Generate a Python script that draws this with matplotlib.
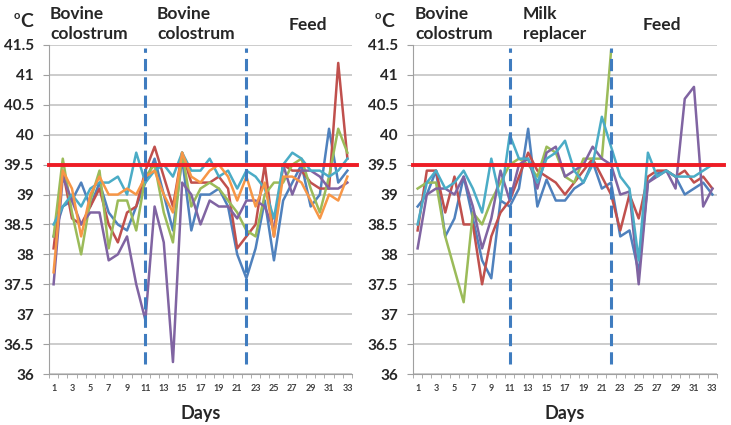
import numpy as np
import matplotlib
matplotlib.use("Agg")
import matplotlib.pyplot as plt

nan = np.nan
days = list(range(1, 34))
tick_days = list(range(1, 34, 2))
yticks = [36, 36.5, 37, 37.5, 38, 38.5, 39, 39.5, 40, 40.5, 41, 41.5]
threshold = 39.5
phase_breaks = [11, 22]

# left panel: bovine colostrum / bovine colostrum / feed
left_blue = [38.3, 38.8, 38.9, 39.2, 38.8, 39.2, 38.7, 38.5, 38.4, 38.8, 39.2, 39.6, 39.0, 38.4, 39.6, 38.4, 39.0,
             39.0, 39.1, 38.8, 38.0, 37.6, 38.1, 38.9, 37.9, 38.9, 39.2, 39.5, 38.8, 39.0, 40.1, 39.2, 39.4]
left_red = [38.1, 39.4, 38.6, 38.5, 38.8, 39.1, 38.5, 38.2, 38.7, 38.8, 39.4, 39.8, 39.3, 38.8, 39.7, 39.2, 39.2,
            39.2, 39.3, 39.1, 38.1, 38.3, 38.5, 39.5, 38.3, 39.5, 39.4, 39.4, 39.2, 39.1, 39.1, 41.2, 39.6]
left_green = [38.3, 39.6, 38.7, 38.0, 38.9, 39.4, 38.1, 38.9, 38.9, 38.4, 39.3, 39.5, 38.7, 38.2, 39.7, 38.8, 39.1,
              39.2, 39.1, 38.9, 38.7, 38.4, 38.3, 39.0, 39.2, 39.2, 39.5, 39.6, 39.1, 38.7, 39.3, 40.1, 39.7]
left_purple = [37.5, 39.3, 38.9, 38.5, 38.7, 38.7, 37.9, 38.0, 38.3, 37.5, 36.9, 38.8, 38.2, 36.2, 39.2, 39.0, 38.5,
               38.9, 38.8, 38.8, 38.6, 38.9, 38.9, 38.8, 38.4, 39.5, 39.0, 39.4, 39.4, 39.3, 39.1, 39.1, 39.2]
left_cyan = [38.5, 38.8, 39.0, 38.8, 39.1, 39.2, 39.2, 39.3, 39.0, 39.7, 39.2, 39.4, 39.5, 39.3, 39.7, 39.4, 39.4,
             39.6, 39.3, 39.4, 39.1, 39.4, 39.3, 39.1, 38.6, 39.5, 39.7, 39.6, 39.4, 39.4, 39.3, 39.4, 39.6]
left_orange = [37.7, 39.4, 39.1, 38.3, 39.0, 39.3, 39.0, 39.0, 39.1, 39.0, 39.3, 39.4, 39.0, 38.7, 39.7, 39.3, 39.2,
               39.4, 39.5, 39.3, 38.9, 39.3, 38.8, 39.2, 38.3, 39.3, 39.3, 39.2, 38.9, 38.6, 39.0, 38.9, 39.3]

# right panel: bovine colostrum / milk replacer / feed
right_blue = [38.8, 39.0, 39.4, 38.3, 38.6, 39.3, 38.6, 37.9, 37.6, 38.9, 38.8, 39.1, 40.1, 38.8, 39.25, 38.9, 38.9,
              39.1, 39.2, 39.55, 39.1, 39.2, 38.3, 38.4, 37.7, 39.2, 39.35, 39.4, 39.3, 39.0, 39.1, 39.2, 39.0]
right_red = [38.4, 39.4, 39.4, 38.7, 39.3, 38.5, 38.5, 37.5, 38.3, 38.7, 38.9, 39.3, 39.7, 39.4, 39.3, 39.2, 39.0,
             39.2, 39.4, 39.6, 39.3, 39.0, 38.4, 39.0, 38.6, 39.3, 39.4, 39.4, 39.3, 39.4, 39.2, 39.3, 39.1]
right_green = [39.1, 39.2, 39.2, 38.3, 37.75, 37.2, 38.7, 38.5, 38.9, 39.2, 39.5, 39.6, 39.5, 39.3, 39.8, 39.7, 39.3,
               39.2, 39.6, 39.6, 39.6, 41.4, nan, nan, nan, nan, nan, nan, nan, nan, nan, nan, nan]
right_purple = [38.1, 39.0, 39.1, 39.1, 39.0, 39.3, 38.8, 38.1, 38.6, 39.4, 38.9, 39.5, 39.6, 39.1, 39.7, 39.8, 39.3,
                39.4, 39.5, 39.8, 39.6, 39.5, 39.0, 39.05, 37.5, 39.2, 39.3, 39.4, 39.1, 40.6, 40.8, 38.8, 39.1]
right_cyan = [38.5, 39.2, 39.4, 39.1, 39.2, 39.4, 39.1, 38.7, 39.6, 38.9, 40.0, 39.6, 39.6, 39.2, 39.6, 39.7, 39.9,
              39.4, 39.2, 39.5, 40.3, 39.8, 39.3, 39.1, 37.9, 39.7, 39.3, 39.4, 39.3, 39.3, 39.3, 39.4, 39.5]

colors = {"blue": "#4F81BD", "red": "#C0504D", "green": "#9BBB59",
          "purple": "#8064A2", "cyan": "#4BACC6", "orange": "#F79646"}

left_series = [(left_blue, "blue"), (left_red, "red"), (left_green, "green"),
               (left_purple, "purple"), (left_cyan, "cyan"), (left_orange, "orange")]
right_series = [(right_blue, "blue"), (right_red, "red"), (right_green, "green"),
                (right_purple, "purple"), (right_cyan, "cyan")]

plt.rcParams["font.family"] = ["Lato", "DejaVu Sans"]
fig = plt.figure(figsize=(7.31, 4.25), dpi=100)
W, H = 731, 425


def draw_panel(ax, series):
    for vals, c in series:
        ax.plot(days, vals, color=colors[c], lw=1.8, zorder=3)
    ax.set_xlim(0.5, 33.5)
    ax.set_ylim(36, 41.5)
    ax.set_yticks(yticks)
    ax.set_yticklabels([f"{v:g}" for v in yticks], fontsize=11, fontweight="bold", color="#262626")
    ax.set_xticks(tick_days)
    ax.set_xticklabels([str(d) for d in tick_days], fontsize=6.5, fontweight="bold", color="#404040")
    ax.set_xticks(np.arange(0.5, 34, 1), minor=True)
    ax.tick_params(axis="x", which="major", length=0, pad=7)
    ax.tick_params(axis="x", which="minor", length=3, color="#A0A0A0", direction="out")
    ax.tick_params(axis="y", length=4, color="#A0A0A0", pad=7)
    ax.grid(axis="y", color="#BEBEBE", lw=1.1, zorder=0)
    ax.set_axisbelow(True)
    for s in ["top", "right"]:
        ax.spines[s].set_visible(False)
    for s in ["left", "bottom"]:
        ax.spines[s].set_color("#A0A0A0")
    for d in phase_breaks:
        ax.plot([d, d], [36.17, 41.45], color="#3F7CBF", lw=2.2, ls=(0, (4, 2)), zorder=4)
    ax.set_xlabel("Days", fontsize=13, fontweight="bold", color="#262626", labelpad=9)


ax1 = fig.add_axes([49 / W, 1 - 374 / H, (352 - 49) / W, (374 - 45) / H])
draw_panel(ax1, left_series)
ax1.plot([0.5, 34.0], [threshold, threshold], color="#EE1C25", lw=2.8, zorder=5, clip_on=False)

ax2 = fig.add_axes([413 / W, 1 - 374 / H, (717 - 413) / W, (374 - 45) / H])
draw_panel(ax2, right_series)
ax2.plot([0.5, 34.3], [threshold, threshold], color="#EE1C25", lw=2.8, zorder=5, clip_on=False)

# header texts
tkw = dict(fontsize=12.5, fontweight="bold", color="#262626", linespacing=1.3, va="top", ha="left")
fig.text(50 / W, 1 - 6 / H, "Bovine\ncolostrum", **tkw)
fig.text(157 / W, 1 - 6 / H, "Bovine\ncolostrum", **tkw)
fig.text(289 / W, 1 - 17 / H, "Feed", **tkw)
fig.text(415 / W, 1 - 6 / H, "Bovine\ncolostrum", **tkw)
fig.text(523 / W, 1 - 6 / H, "Milk\nreplacer", **tkw)
fig.text(643 / W, 1 - 17 / H, "Feed", **tkw)

for x0 in [14, 375]:
    fig.text(x0 / W, 1 - 10 / H, "o", fontsize=8, fontweight="bold", color="#262626", va="top")
    fig.text((x0 + 6) / W, 1 - 13 / H, "C", fontsize=14, fontweight="bold", color="#262626", va="top")

fig.savefig("out.png", dpi=100)
